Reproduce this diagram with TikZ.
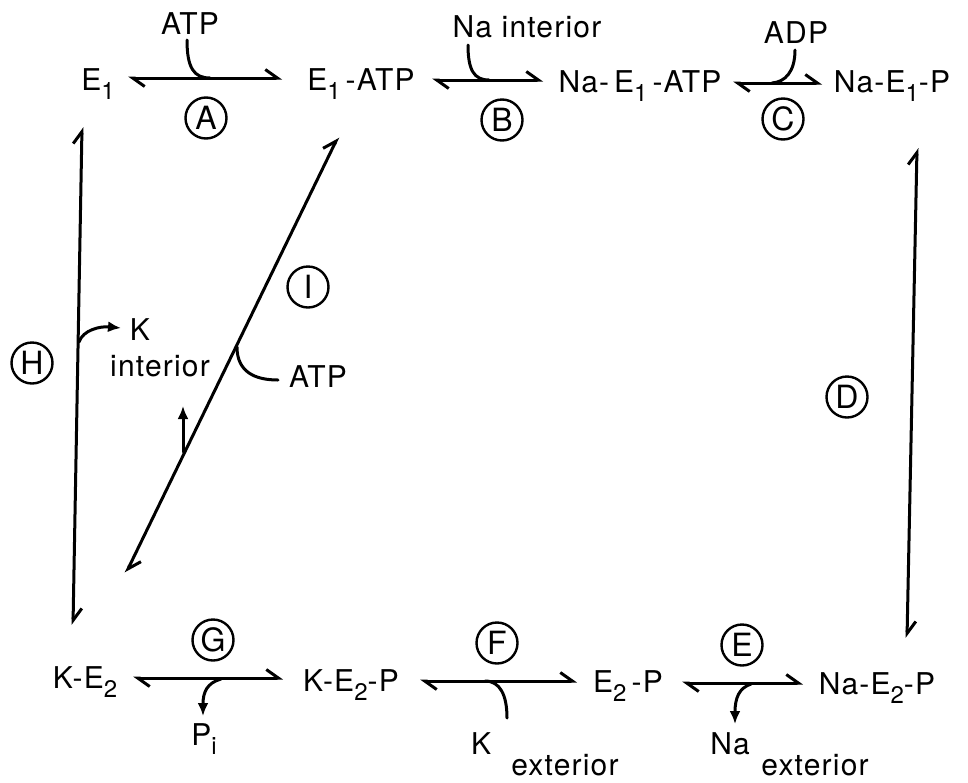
\documentclass[tikz,border=0pt]{standalone}
\usepackage{fontspec}
\setmainfont{TeX Gyre Heros}[LetterSpace=4.0]
\usetikzlibrary{arrows.meta,positioning,calc}
\newcommand\dn[1]{\raisebox{-4.5pt}{\fontsize{12}{12}\selectfont #1}}

\begin{document}
\begin{tikzpicture}[
  x=0.5pt, y=-0.5pt,
  every node/.style={font=\fontsize{15}{17}\selectfont},
  sp/.style={inner sep=0pt, text height=11pt, text depth=0pt},
  lab/.style={circle, draw, line width=1.2pt, minimum size=20.5pt, inner sep=0pt,
              font=\fontsize{16}{17}\selectfont},
  eq/.style={line width=1.5pt, line cap=round,
             {Straight Barb[harpoon,length=6pt,width=8.5pt]}-{Straight Barb[harpoon,length=6pt,width=8.5pt]}},
  side/.style={line width=1.5pt, line cap=round},
  outa/.style={side, -{Latex[length=6.5pt,width=5.5pt]}}]

\useasboundingbox (0,0) rectangle (968,782);

% ================= the eight forms of the enzyme ==========================
\node[sp] (e1)      at ( 98, 79) {E\dn{1}};
\node[sp] (e1atp)   at (361, 79) {E\dn{1}\,-ATP};
\node[sp] (nae1atp) at (640, 81) {Na-\,E\dn{1}\,-ATP};
\node[sp] (nae1p)   at (892, 81) {Na-E\dn{1}-P};

\node[sp] (ke2)     at ( 85,677) {K-E\dn{2}};
\node[sp] (ke2p)    at (351,680) {K-E\dn{2}-P};
\node[sp] (e2p)     at (628,681) {E\dn{2}\,-P};
\node[sp] (nae2p)   at (877,683) {Na-E\dn{2}-P};

% ================= the reactions ==========================================
\draw[eq] ($(e1)+(30,-1)$)      -- ($(e1atp)+(-79,-1)$);
\draw[eq] ($(e1atp)+(71,1)$)    -- ($(nae1atp)+(-97,-1)$);
\draw[eq] ($(nae1atp)+(93,2)$)  -- ($(nae1p)+(-70,2)$);
\draw[eq] ($(nae1p)+(25,67)$)   -- ($(nae2p)+(30,-45)$);
\draw[eq] ($(e2p)+(54,2)$)      -- ($(nae2p)+(-74,0)$);
\draw[eq] ($(ke2p)+(69,1)$)     -- ($(e2p)+(-51,0)$);
\draw[eq] ($(ke2)+(48,1)$)      -- ($(ke2p)+(-68,-2)$);
\draw[eq] ($(e1)+(-16,48)$)     -- ($(ke2)+(-12,-52)$);
\draw[eq] ($(e1atp)+(-23,58)$)  -- ($(ke2)+(41,-104)$);

% circled letters
\node[lab] (ra) at (206,118) {A};
\node[lab] (rb) at (502,120) {B};
\node[lab] (rc) at (783,119) {C};
\node[lab] (rd) at (847,397) {D};
\node[lab] (re) at (742,645) {E};
\node[lab] (rf) at (497,643) {F};
\node[lab] (rg) at (213,640) {G};
\node[lab] (rh) at ( 32,363) {H};
\node[lab] (ri) at (308,287) {I};

% ================= what goes in and out ===================================
\node[sp] (atpa) at (190, 23) {ATP};
\node[sp] (nain) at (527, 26) {Na interior};
\node[sp] (adp)  at (796, 32) {ADP};
\node[sp] (kin)  at (140,329) {K};
\node[sp] (kinl) at (160,365) {interior};
\node[sp] (atpi) at (318,376) {ATP};
\node[sp] (pi)   at (204,734) {P\dn{i}};
\node[sp] (kex)  at (481,743) {K};
\node[sp] (kexl) at (565,764) {exterior};
\node[sp] (naex) at (730,743) {Na};
\node[sp] (naexl) at (815,764) {exterior};

\draw[side] (187,40) .. controls (187,68) and (194,78) .. (210,78);
\draw[side] (468,45) .. controls (468,70) and (474,80) .. (489,80);
\draw[side] (795,50) .. controls (795,72) and (785,82) .. (772,83);
\draw[side] (237,347) .. controls (237,372) and (255,380) .. (278,380);
\draw[side] (485,681) .. controls (500,681) and (507,695) .. (507,718);

\draw[outa] (79,342) .. controls (83,330) and (100,326) .. (121,328);
\draw[outa] (221,679) .. controls (207,683) and (203,692) .. (203,716);
\draw[outa] (751,684) .. controls (739,688) and (735,698) .. (735,724);
\draw[outa] (183,452) -- (183,406);

\end{tikzpicture}
\end{document}
